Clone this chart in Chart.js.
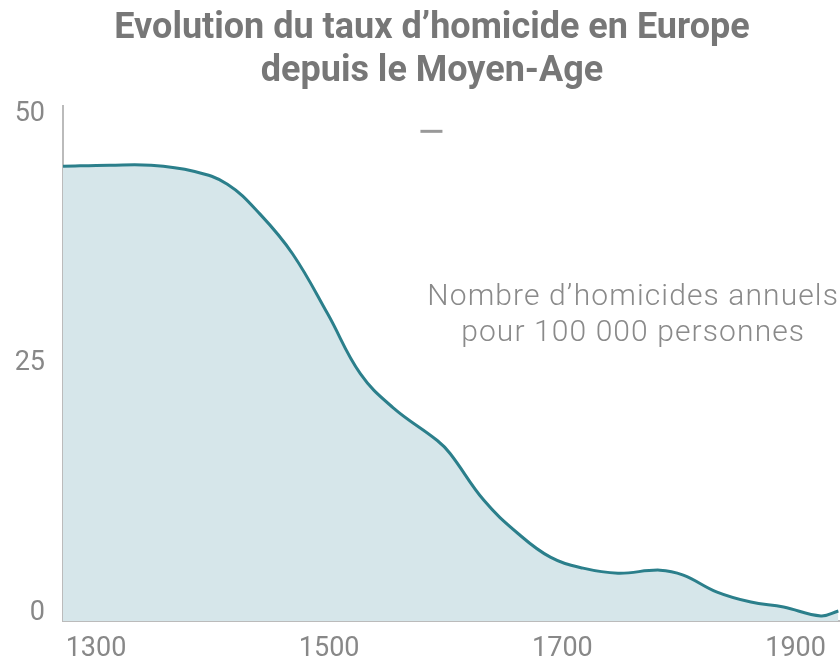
<!DOCTYPE html>
<html>
<head>
<meta charset="utf-8">
<script src="https://cdn.jsdelivr.net/npm/chart.js@4/dist/chart.umd.min.js"></script>
<style>
  html, body { margin: 0; padding: 0; background: #fff; overflow: hidden; }
  #wrap { width: 864px; height: 665px; }
</style>
</head>
<body>
<div id="wrap"><canvas id="homicides" width="864" height="665"></canvas></div>
<script>
// values
var years = [1300, 1340, 1375, 1412, 1441, 1469, 1497, 1527, 1555, 1583, 1621, 1632, 1661, 1690, 1718, 1746, 1776, 1812, 1832, 1861, 1890, 1918, 1950, 1965];
var rates = [45.6, 45.7, 45.7, 45.1, 43.8, 40.8, 36.8, 30.8, 24.8, 21.4, 18.1, 16.8, 12.1, 8.8, 6.4, 5.3, 4.8, 5.1, 4.6, 2.9, 1.9, 1.4, 0.5, 1.0];
var yearTicks = [1300, 1500, 1700, 1900];
var rateTicks = [0, 25, 50];
var titleLines = ["Evolution du taux d\u2019homicide en Europe", "depuis le Moyen-Age"];
var noteLines = ["Nombre d\u2019homicides annuels", "pour 100 000 personnes"];

var points = years.map(function(y, i){ return {x: y, y: rates[i]}; });

// note text + small dash inside the plot area
var notePlugin = {
    id: 'note',
    afterDatasetsDraw: function(chart){
        var ctx = chart.ctx;
        var xs = chart.scales.x, ys = chart.scales.y;
        ctx.save();
        // dash
        ctx.strokeStyle = '#999';
        ctx.lineWidth = 3;
        var dx = xs.getPixelForValue(1616), dy = ys.getPixelForValue(49.1);
        ctx.beginPath();
        ctx.moveTo(dx - 11, dy);
        ctx.lineTo(dx + 11, dy);
        ctx.stroke();
        // text
        ctx.fillStyle = '#8a8a8a';
        ctx.font = '300 30px Roboto';
        ctx.letterSpacing = '1.1px';
        ctx.textAlign = 'center';
        ctx.textBaseline = 'middle';
        var tx = xs.getPixelForValue(1789);
        ctx.fillText(noteLines[0], tx, ys.getPixelForValue(32.4));
        ctx.fillText(noteLines[1], tx, ys.getPixelForValue(28.8));
        ctx.restore();
    }
};

var ctx = document.getElementById('homicides').getContext('2d');
var chart = new Chart(ctx, {
    type: 'line',
    data: {
        datasets: [{
            data: points,
            borderColor: '#2b7f8b',
            backgroundColor: '#d6e6ea',
            borderWidth: 3,
            fill: 'origin',
            pointRadius: 0,
            tension: 0.4
        }]
    },
    options: {
        responsive: false,
        animation: false,
        layout: { padding: { left: 0, right: 0, top: 0, bottom: 0 } },
        plugins: {
            legend: { display: false },
            tooltip: { enabled: false },
            title: {
                display: true,
                text: titleLines,
                color: '#777',
                font: { family: 'Roboto', size: 36, weight: 'bold', lineHeight: 1.2 },
                padding: { top: 7, bottom: 13 }
            }
        },
        scales: {
            x: {
                type: 'linear',
                min: 1300,
                max: 1987,
                afterBuildTicks: function(s){ s.ticks = yearTicks.map(function(v){ return {value: v}; }); },
                afterFit: function(s){ s.height = 44; },
                grid: { display: false, drawTicks: false },
                border: { display: true, color: '#bbb', width: 2 },
                ticks: {
                    autoSkip: false,
                    maxRotation: 0,
                    labelOffset: 33,
                    padding: 12,
                    color: '#888',
                    font: { family: 'Roboto', size: 27 },
                    callback: function(v){ return String(v); }
                }
            },
            y: {
                min: 0,
                max: 51.6,
                afterBuildTicks: function(s){ s.ticks = rateTicks.map(function(v){ return {value: v}; }); },
                afterFit: function(s){ s.width = 63; },
                grid: { display: false, drawTicks: false },
                border: { display: true, color: '#bbb', width: 2 },
                ticks: {
                    labelOffset: -8,
                    padding: 18,
                    color: '#888',
                    font: { family: 'Roboto', size: 27 }
                }
            }
        }
    },
    plugins: [notePlugin]
});
</script>
</body>
</html>
